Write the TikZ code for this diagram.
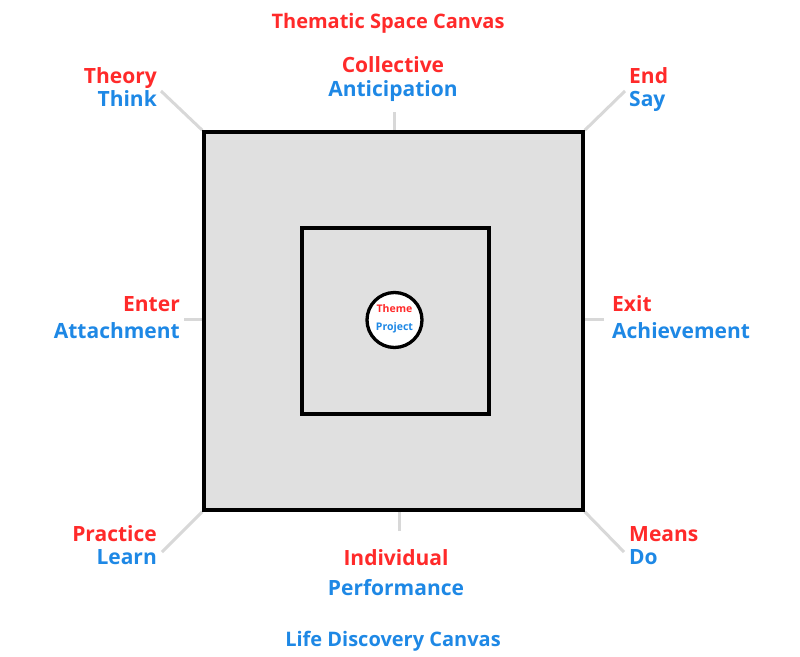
\documentclass[tikz,border=0pt]{standalone}
\usepackage{fontspec}
\setmainfont{Open Sans}
\usetikzlibrary{positioning}

\definecolor{lblred}{RGB}{255,42,42}
\definecolor{lblblue}{RGB}{30,136,229}
\definecolor{boxgray}{RGB}{224,224,224}
\definecolor{tickgray}{RGB}{216,216,216}

\begin{document}
\begin{tikzpicture}[
  x=1pt,y=-1pt,
  frame/.style={draw=black,line width=3.3pt},
  tick/.style={draw=tickgray,line width=3pt},
  redlbl/.style={text=lblred,font=\fontsize{21}{25}\selectfont\bfseries,inner sep=0pt},
  bluelbl/.style={text=lblblue,font=\fontsize{21}{25}\selectfont\bfseries,inner sep=0pt},
  headlbl/.style={font=\fontsize{20}{24}\selectfont\bfseries,inner sep=0pt},
  core/.style={font=\fontsize{10.5}{12}\selectfont\bfseries,inner sep=0pt}
]
  \useasboundingbox (0,0) rectangle (800,656);

  % squares and centre
  \node[frame,fill=boxgray,minimum width=379pt,minimum height=378pt,inner sep=0pt]
       (outer) at (393.5,321) {};
  \node[frame,minimum width=187pt,minimum height=186pt,inner sep=0pt]
       (inner) at (395.5,321) {};
  \node[frame,fill=white,circle,minimum size=55pt,inner sep=0pt] (hub) at (394.5,320) {};
  \node[core,text=lblred]  (theme)   at (394.5,309) {Theme};
  \node[core,text=lblblue] (project) at (394.5,328) {Project};

  % tick ends
  \coordinate (tN)  at (394,112);
  \coordinate (tS)  at (399,531);
  \coordinate (tW)  at (184,319);
  \coordinate (tE)  at (604,319);
  \coordinate (tNW) at (161,91);
  \coordinate (tNE) at (625,91);
  \coordinate (tSW) at (162,552);
  \coordinate (tSE) at (624,552);

  \draw[tick] (tN) -- (tN |- outer.north);
  \draw[tick] (tS) -- (tS |- outer.south);
  \draw[tick] (tW) -- (outer.west |- tW);
  \draw[tick] (tE) -- (outer.east |- tE);
  \draw[tick] (tNW) -- (outer.north west);
  \draw[tick] (tNE) -- (outer.north east);
  \draw[tick] (tSW) -- (outer.south west);
  \draw[tick] (tSE) -- (outer.south east);
  \node[frame,minimum width=379pt,minimum height=378pt,inner sep=0pt] at (outer) {};

  % titles
  \node[headlbl,text=lblred,anchor=base]  (title) at (388,28)  {Thematic Space Canvas};
  \node[headlbl,text=lblblue,anchor=base] (foot)  at (393,646) {Life Discovery Canvas};

  % side labels
  \node[redlbl,anchor=base]  (coll)  at (393,72)  {Collective};
  \node[bluelbl,anchor=base] (antic) at (393,96)  {Anticipation};
  \node[redlbl,anchor=base]  (indiv) at (396,565) {Individual};
  \node[bluelbl,anchor=base] (perf)  at (396,595) {Performance};

  \node[redlbl,anchor=base east]  (enter)  at (180,311) {Enter};
  \node[bluelbl,anchor=base east] (attach) at (180,338) {Attachment};
  \node[redlbl,anchor=base west]  (exit)   at (612,311) {Exit};
  \node[bluelbl,anchor=base west] (achiev) at (612,338) {Achievement};

  % corner labels
  \node[redlbl,anchor=base east]  (theory) at (157,83)  {Theory};
  \node[bluelbl,anchor=base east] (think)  at (157,106) {Think};
  \node[redlbl,anchor=base west]  (endl)   at (629,83)  {End};
  \node[bluelbl,anchor=base west] (say)    at (629,106) {Say};
  \node[redlbl,anchor=base east]  (pract)  at (157,541) {Practice};
  \node[bluelbl,anchor=base east] (learn)  at (157,564) {Learn};
  \node[redlbl,anchor=base west]  (means)  at (629,541) {Means};
  \node[bluelbl,anchor=base west] (doit)   at (629,564) {Do};
\end{tikzpicture}
\end{document}
